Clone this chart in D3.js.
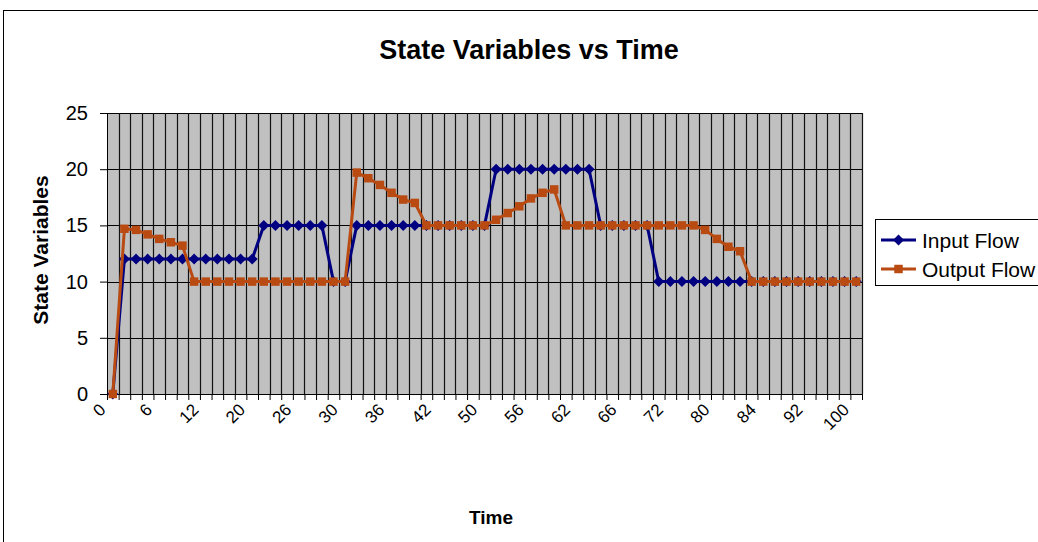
<!DOCTYPE html>
<html>
<head>
<meta charset="utf-8">
<script src="https://cdn.jsdelivr.net/npm/d3@7"></script>
<style>
  body { margin: 0; background: #fff; }
  text { font-family: "Liberation Sans", Arial, sans-serif; }
</style>
</head>
<body>
<div id="chart"></div>
<script>
// time categories (only every 4th one is labelled on the axis)
let times = [0, 1, 3, 4, 6, 8, 9, 11, 12, 14, 16, 18, 20, 22, 23, 25,
    26, 27, 28, 29, 30, 32, 33, 35, 36, 38, 39, 41, 42, 44, 46, 48,
    50, 52, 53, 55, 56, 58, 59, 61, 62, 63, 64, 65, 66, 68, 69, 71,
    72, 74, 76, 78, 80, 81, 82, 83, 84, 86, 88, 90, 92, 94, 96, 98, 100];
let tickTimes = [0, 6, 12, 20, 26, 30, 36, 42, 50, 56, 62, 66, 72, 80, 84, 92, 100];
let yTicks = [0, 5, 10, 15, 20, 25];

let inputFlow = [0,
    12, 12, 12, 12, 12, 12, 12, 12, 12, 12, 12, 12,
    15, 15, 15, 15, 15, 15,
    10, 10,
    15, 15, 15, 15, 15, 15, 15, 15, 15, 15, 15, 15,
    20, 20, 20, 20, 20, 20, 20, 20, 20,
    15, 15, 15, 15, 15,
    10, 10, 10, 10, 10, 10, 10, 10, 10, 10, 10, 10, 10, 10, 10, 10, 10, 10];

let outputFlow = [0,
    14.7, 14.6, 14.2, 13.8, 13.5, 13.2,
    10, 10, 10, 10, 10, 10, 10, 10, 10, 10, 10, 10, 10, 10,
    19.7, 19.2, 18.6, 17.9, 17.3, 17.0,
    15, 15, 15, 15, 15, 15,
    15.5, 16.1, 16.7, 17.4, 17.9, 18.2,
    15, 15, 15, 15, 15, 15, 15, 15, 15, 15, 15, 15,
    14.6, 13.8, 13.1, 12.7,
    10, 10, 10, 10, 10, 10, 10, 10, 10, 10];

let seriesNames = ["Input Flow", "Output Flow"];
let seriesColors = ["#000080", "#b84a12"];

let W = 1038, H = 542;
let margin = {top: 113, left: 107},
    width = 862 - 107,
    height = 394 - 113;

let svg = d3.select("#chart").append("svg")
    .attr("width", W)
    .attr("height", H);

svg.append("rect")
    .attr("x", 0).attr("y", 0)
    .attr("width", W).attr("height", H)
    .attr("fill", "#fff");

// chart area border
svg.append("rect")
    .attr("x", 3.5).attr("y", 10.5)
    .attr("width", 1060).attr("height", 560)
    .attr("fill", "none")
    .attr("stroke", "#000")
    .attr("stroke-width", 1);

svg.append("text")
    .attr("x", 529).attr("y", 59)
    .attr("text-anchor", "middle")
    .attr("font-size", 27)
    .attr("font-weight", "bold")
    .text("State Variables vs Time");

let g = svg.append("g")
    .attr("transform", "translate(" + margin.left + "," + margin.top + ")");

let x = d3.scaleBand()
    .domain(times)
    .range([0, width])
    .padding(0);

// category boundaries, for gridlines and tick marks
let xb = d3.scaleLinear()
    .domain([0, times.length])
    .range([0, width]);

let y = d3.scaleLinear()
    .domain([0, 25])
    .range([height, 0]);

g.append("rect")
    .attr("width", width)
    .attr("height", height)
    .attr("fill", "#c0c0c0");

g.append("g")
    .selectAll("line")
    .data(yTicks)
    .enter()
    .append("line")
    .attr("x1", 0).attr("x2", width)
    .attr("y1", function(d) { return Math.round(y(d)) + 0.5; })
    .attr("y2", function(d) { return Math.round(y(d)) + 0.5; })
    .attr("stroke", "#000");

g.append("g")
    .selectAll("line")
    .data(d3.range(1, times.length + 1))
    .enter()
    .append("line")
    .attr("x1", function(d) { return Math.round(xb(d)) + 0.5; })
    .attr("x2", function(d) { return Math.round(xb(d)) + 0.5; })
    .attr("y1", 0).attr("y2", height)
    .attr("stroke", "#111")
    .attr("stroke-width", 1.2);

// y axis
let yAxis = g.append("g")
    .call(d3.axisLeft(y).tickValues(yTicks).tickSize(7).tickPadding(12));
yAxis.select(".domain").attr("stroke", "#000");
yAxis.selectAll("text")
    .attr("font-size", 20)
    .attr("font-family", "Liberation Sans, Arial, sans-serif")
    .attr("fill", "#000");

// x axis: tick marks at category boundaries
let xAxis = g.append("g")
    .attr("transform", "translate(0," + height + ")")
    .call(d3.axisBottom(xb).tickValues(d3.range(times.length + 1)).tickSize(6).tickFormat(""));
xAxis.select(".domain").attr("stroke", "#000");

// x labels: every 4th category, rotated
let xLab = g.append("g")
    .attr("transform", "translate(0," + height + ")")
    .call(d3.axisBottom(x).tickValues(tickTimes).tickSize(0).tickFormat(d3.format("d")));
xLab.select(".domain").remove();
xLab.selectAll("text")
    .attr("font-size", 17)
    .attr("font-family", "Liberation Sans, Arial, sans-serif")
    .attr("fill", "#000")
    .attr("text-anchor", "end")
    .attr("dy", null)
    .attr("y", 0)
    .attr("dominant-baseline", "central")
    .attr("transform", "translate(-10,13) rotate(-45)");

svg.append("text")
    .attr("transform", "translate(40,250) rotate(-90)")
    .attr("text-anchor", "middle")
    .attr("dominant-baseline", "central")
    .attr("font-size", 21)
    .attr("font-weight", "bold")
    .text("State Variables");

svg.append("text")
    .attr("x", 491).attr("y", 524)
    .attr("text-anchor", "middle")
    .attr("font-size", 19)
    .attr("font-weight", "bold")
    .text("Time");

let line = d3.line()
    .x(function(d, i) { return x(times[i]) + x.bandwidth() / 2; })
    .y(function(d) { return y(d); });

let diamond = "M0,-5.5L5.5,0L0,5.5L-5.5,0Z";
let square = d3.symbol().type(d3.symbolSquare).size(72)();
let markers = [diamond, square];

[inputFlow, outputFlow].forEach(function(values, s) {
    g.append("path")
        .datum(values)
        .attr("fill", "none")
        .attr("stroke", seriesColors[s])
        .attr("stroke-width", 3)
        .attr("stroke-linejoin", "round")
        .attr("d", line);

    g.append("g")
        .selectAll("path")
        .data(values)
        .enter()
        .append("path")
        .attr("d", markers[s])
        .attr("transform", function(d, i) {
            return "translate(" + (x(times[i]) + x.bandwidth() / 2) + "," + y(d) + ")";
        })
        .attr("fill", seriesColors[s]);
});

// legend
let legend = svg.append("g");
legend.append("rect")
    .attr("x", 875.5).attr("y", 219.5)
    .attr("width", 200).attr("height", 66)
    .attr("fill", "#fff")
    .attr("stroke", "#000");

seriesNames.forEach(function(name, s) {
    let ly = 240 + s * 29;
    legend.append("line")
        .attr("x1", 881).attr("x2", 916)
        .attr("y1", ly).attr("y2", ly)
        .attr("stroke", seriesColors[s])
        .attr("stroke-width", 3);
    legend.append("path")
        .attr("d", markers[s])
        .attr("transform", "translate(898.5," + ly + ")")
        .attr("fill", seriesColors[s]);
    legend.append("text")
        .attr("x", 922).attr("y", ly)
        .attr("dominant-baseline", "central")
        .attr("font-size", 21)
        .text(name);
});
</script>
</body>
</html>
